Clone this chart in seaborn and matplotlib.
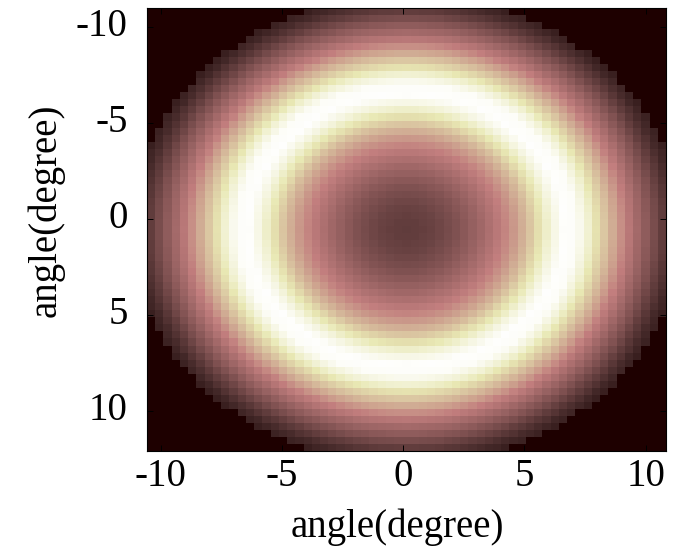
import numpy as np
import matplotlib
matplotlib.use("Agg")
import matplotlib.pyplot as plt
import seaborn as sns

# Radial intensity profile of the annular beam (normalised), radius in degrees
radius_deg = [0.0, 0.5, 1.0, 1.5, 2.0, 2.5, 3.0, 3.5, 4.0, 4.5, 5.0, 5.5,
              6.0, 6.5, 7.0, 7.5, 8.0, 8.5, 9.0, 9.5, 10.0, 10.5, 11.0, 11.5]
intensity = [0.085, 0.09, 0.10, 0.12, 0.15, 0.19, 0.24, 0.30, 0.37, 0.45, 0.56, 0.72,
             0.88, 0.99, 0.97, 0.83, 0.65, 0.50, 0.37, 0.26, 0.17, 0.09, 0.04, 0.015]
aperture_deg = 11.35          # no light outside this radius

# Sampling grid of the detector image
half_width_deg = 10.7
n_cells = 63

tick_values = [-10, -5, 0, 5, 10]
tick_labels = ["-10", "-5", "0", "5", "10"]

plt.rcParams["font.family"] = ["Liberation Serif", "DejaVu Serif"]

edges = np.linspace(-half_width_deg, half_width_deg, n_cells + 1)
centers = 0.5 * (edges[:-1] + edges[1:])
gx, gy = np.meshgrid(centers, centers)
r = np.hypot(gx, gy)
image = np.interp(r, radius_deg, intensity)
image[r > aperture_deg] = 0.0

fig = plt.figure(figsize=(6.83, 5.53), dpi=100)
ax = fig.add_axes([147 / 683, 1 - 451 / 553, 519 / 683, 443 / 553])

sns.heatmap(image, ax=ax, cmap="pink", vmin=0, vmax=1, cbar=False,
            xticklabels=False, yticklabels=False)


def to_cell(deg):
    return (np.asarray(deg, dtype=float) + half_width_deg) / (2 * half_width_deg) * n_cells


# tick placement along each axis
x_pos = to_cell(-0.14 + 1.0 * np.array(tick_values))
y_pos = to_cell(-0.53 + 0.9275 * np.array(tick_values))
ax.set_xticks(x_pos)
ax.set_xticklabels(tick_labels, rotation=0)
ax.set_yticks(y_pos)
ax.set_yticklabels(tick_labels, rotation=0, va="center")

for s in ax.spines.values():
    s.set_visible(True)
    s.set_color("black")
    s.set_linewidth(0.8)

ax.tick_params(axis="both", direction="in", length=4, width=0.7,
               top=True, right=True, labelsize=28, colors="black")
ax.tick_params(axis="x", pad=5)
ax.tick_params(axis="y", pad=14)

ax.set_xlabel("angle(degree)", fontsize=28, va="center")
ax.set_ylabel("angle(degree)", fontsize=28, va="center")
ax.xaxis.set_label_coords((397 - 147) / 519, (451 - 527) / 443)
ax.yaxis.set_label_coords((46 - 147) / 519, (451 - 210) / 443)

fig.savefig("out.png", dpi=100)
